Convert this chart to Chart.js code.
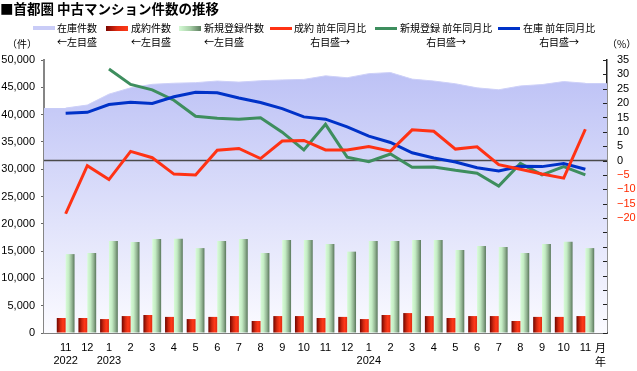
<!DOCTYPE html>
<html><head><meta charset="utf-8">
<script src="https://cdn.jsdelivr.net/npm/chart.js@4.4.1/dist/chart.umd.min.js"></script>
<style>
html,body{margin:0;padding:0;background:#fff;overflow:hidden}
#wrap{position:relative;width:637px;height:371px}
canvas{position:absolute;left:0;top:0}
.t{position:absolute;font-family:"Noto Sans CJK JP",sans-serif;color:#000;white-space:nowrap}
.lg{font-size:10px;line-height:14px;top:21px}
.c{text-align:center}
.sw{position:absolute;width:22px}
</style></head><body>
<div id="wrap">
<canvas id="c" width="637" height="371"></canvas>
<div class="t" style="left:0;top:0;font-size:13.5px;line-height:16px;font-weight:bold">■首都圏 中古マンション件数の推移</div>

<div class="sw" style="left:33px;top:26px;height:4px;background:#c9ccf7"></div>
<div class="t lg" style="left:57px">在庫件数<br>←左目盛</div>
<div class="sw" style="left:106px;top:26px;height:5px;background:linear-gradient(to right,#7a0600,#e02a10,#ff3a18)"></div>
<div class="t lg" style="left:131px">成約件数<br>←左目盛</div>
<div class="sw" style="left:179px;top:26px;height:5px;background:linear-gradient(to right,#d6fbd6,#a8d0a8,#5a7a5c)"></div>
<div class="t lg" style="left:204px">新規登録件数<br>←左目盛</div>
<div class="sw" style="left:270px;top:27px;height:3px;background:#ff3214"></div>
<div class="t lg c" style="left:294px">成約 前年同月比<br>右目盛→</div>
<div class="sw" style="left:375px;top:27px;height:3px;background:#3e8e5e"></div>
<div class="t lg c" style="left:400px">新規登録 前年同月比<br>右目盛→</div>
<div class="sw" style="left:498px;top:27px;height:3px;background:#0032c8"></div>
<div class="t lg c" style="left:523px">在庫 前年同月比<br>右目盛→</div>

<div class="t" style="left:7px;top:38px;font-size:10px;line-height:12px">（件）</div>
<div class="t" style="left:607px;top:38px;font-size:10px;line-height:12px">（%）</div>
<div class="t" style="left:595px;top:340px;font-size:11px;line-height:14px">月<br>年</div>
</div>
<script>
const months = ['11','12','1','2','3','4','5','6','7','8','9','10','11','12','1','2','3','4','5','6','7','8','9','10','11'];
const years  = ['2022','','2023','','','','','','','','','','','','2024','','','','','','','','','',''];

const inventory    = [41200,41750,43750,44900,45550,45750,45850,46150,45950,46200,46350,46450,47100,46750,47500,47700,46500,46150,45650,44900,44550,45250,45500,46050,45750];
const contracts    = [2750,2750,2550,3100,3300,2950,2550,2950,3100,2200,3100,3100,2750,2950,2550,3300,3650,3100,2750,3100,3100,2200,2950,2950,3100];
const newListings  = [14450,14650,16850,16650,17200,17250,15550,16850,17200,14650,17050,17050,16300,14900,16850,16850,17050,17050,15200,15950,15750,14650,16300,16700,15550];
const contractsYoY = [-18.5,-1.8,-6.6,3.2,1.0,-4.7,-5.0,3.6,4.2,0.7,6.8,7.0,3.7,3.7,4.9,3.3,10.7,10.2,4.0,4.8,-1.4,-3.0,-4.7,-6.1,10.9];
const listingsYoY  = [null,null,31.9,26.5,24.6,21.0,15.4,14.7,14.4,14.9,9.9,3.7,12.6,1.2,-0.4,2.3,-2.3,-2.2,-3.4,-4.4,-8.9,-1.0,-5.0,-2.1,-5.0];
const inventoryYoY = [16.5,16.8,19.5,20.3,19.9,22.2,23.8,23.6,21.8,20.2,18.1,15.2,14.4,11.7,8.5,6.3,2.7,0.9,-0.5,-2.5,-3.6,-2.0,-2.1,-1.0,-3.0];

const pts = arr => arr.map((v,i) => ({x:i, y:v}));

function areaGradient(chart){
  const ca = chart.chartArea;
  const g = chart.ctx.createLinearGradient(0, ca.top, 0, ca.bottom);
  g.addColorStop(0,'rgb(186,191,245)');
  g.addColorStop(1,'rgb(251,251,255)');
  return g;
}

const decor = {
  id:'decor',
  beforeDatasetDraw(chart,args){
    const ds = chart.data.datasets[args.index];
    if (!ds.kind) return;
    const ctx = chart.ctx;
    args.meta.data.forEach(el => {
      const l = el.x - el.width/2, r = el.x + el.width/2;
      const g = ctx.createLinearGradient(l,0,r,0);
      if (ds.kind === 'red'){
        g.addColorStop(0,'#6e0500'); g.addColorStop(0.4,'#d22810');
        g.addColorStop(0.7,'#ff3818'); g.addColorStop(1,'#e02c12');
      } else {
        g.addColorStop(0,'#d8fcd8'); g.addColorStop(0.35,'#c4ecc4');
        g.addColorStop(0.7,'#93b493'); g.addColorStop(1,'#5a785c');
      }
      el.options = Object.assign({}, el.options, {backgroundColor:g});
    });
  },
  afterDatasetDraw(chart,args){
    if (args.index !== 0) return;
    const ctx = chart.ctx, ca = chart.chartArea;
    const d = args.meta.data, p0 = d[0], pn = d[d.length-1];
    ctx.save();
    ctx.fillStyle = areaGradient(chart);
    ctx.fillRect(ca.left, p0.y, p0.x - ca.left + 0.5, ca.bottom - p0.y);
    ctx.fillRect(pn.x - 0.5, pn.y, ca.right - pn.x + 0.5, ca.bottom - pn.y);
    const y0 = chart.scales.y1.getPixelForValue(0);
    ctx.strokeStyle = '#4a4a4a'; ctx.lineWidth = 1.5;
    ctx.beginPath(); ctx.moveTo(ca.left, y0); ctx.lineTo(ca.right, y0); ctx.stroke();
    ctx.restore();
  },
  afterDraw(chart){
    const ctx = chart.ctx, ca = chart.chartArea, s = chart.scales.y1;
    ctx.save(); ctx.strokeStyle = '#222'; ctx.lineWidth = 1;
    s.ticks.forEach(t => {
      const y = Math.round(s.getPixelForValue(t.value)) + 0.5;
      ctx.beginPath(); ctx.moveTo(ca.right - 4, y); ctx.lineTo(ca.right, y); ctx.stroke();
    });
    ctx.restore();
  }
};

Chart.defaults.font.family = '"Liberation Sans","Noto Sans CJK JP",sans-serif';
Chart.defaults.font.size = 11;
Chart.defaults.color = '#000';

new Chart(document.getElementById('c'), {
  type:'bar',
  data:{
    datasets:[
      {type:'line', label:'在庫件数', data:pts(inventory), yAxisID:'y', order:10,
       fill:'start', backgroundColor:(c)=> c.chart.chartArea ? areaGradient(c.chart) : '#d0d3f8',
       borderColor:'rgba(205,208,248,1)', borderWidth:1, pointRadius:0, tension:0},
      {label:'成約件数', kind:'red', data:pts(contracts), yAxisID:'y', order:5,
       backgroundColor:'#e02a10', borderWidth:0, categoryPercentage:0.82, barPercentage:1},
      {label:'新規登録件数', kind:'green', data:pts(newListings), yAxisID:'y', order:5,
       backgroundColor:'#b0d8b0', borderWidth:0, categoryPercentage:0.82, barPercentage:1},
      {type:'line', label:'成約 前年同月比', data:pts(contractsYoY), yAxisID:'y1', order:1,
       borderColor:'#ff3214', borderWidth:3, pointRadius:0, tension:0, fill:false},
      {type:'line', label:'新規登録 前年同月比', data:pts(listingsYoY), yAxisID:'y1', order:3,
       borderColor:'#3e8e5e', borderWidth:3, pointRadius:0, tension:0, fill:false},
      {type:'line', label:'在庫 前年同月比', data:pts(inventoryYoY), yAxisID:'y1', order:2,
       borderColor:'#0032c8', borderWidth:3, pointRadius:0, tension:0, fill:false}
    ]
  },
  options:{
    responsive:false, animation:false, devicePixelRatio:1,
    layout:{padding:{top:60,left:0,right:0,bottom:0}},
    plugins:{legend:{display:false}, tooltip:{enabled:false}},
    scales:{
      x:{type:'linear', min:-1, max:25, offset:false,
         grid:{display:true, drawOnChartArea:false, drawTicks:false, offset:false},
         border:{display:true, color:'#7f7f7f', width:2},
         ticks:{stepSize:1, autoSkip:false, maxRotation:0, minRotation:0, padding:8,
                callback:(v)=> (v>=0 && v<=24) ? [months[v], years[v]] : ''},
         afterFit:(s)=>{ s.height = 38; }},
      y:{position:'left', min:0, max:50000,
         grid:{display:true, drawOnChartArea:false, drawTicks:true, tickLength:3, tickColor:'#666'},
         border:{display:true, color:'#858585', width:2},
         ticks:{stepSize:5000, autoSkip:false, padding:6, callback:(v)=> v.toLocaleString('en-US')},
         afterFit:(s)=>{ s.width = 44; }},
      y1:{position:'right', min:-60, max:35,
         grid:{display:true, drawOnChartArea:false, drawTicks:false},
         border:{display:true, color:'#222', width:1.5},
         ticks:{stepSize:5, autoSkip:false, padding:10,
                color:(c)=> (c.tick && c.tick.value < 0) ? '#ff2a00' : '#000',
                callback:(v)=> v >= -20 ? (v < 0 ? '\u2212' + Math.abs(v) : String(v)) : ''},
         afterFit:(s)=>{ s.width = 30; }}
    }
  },
  plugins:[decor]
});
</script>
</body></html>
